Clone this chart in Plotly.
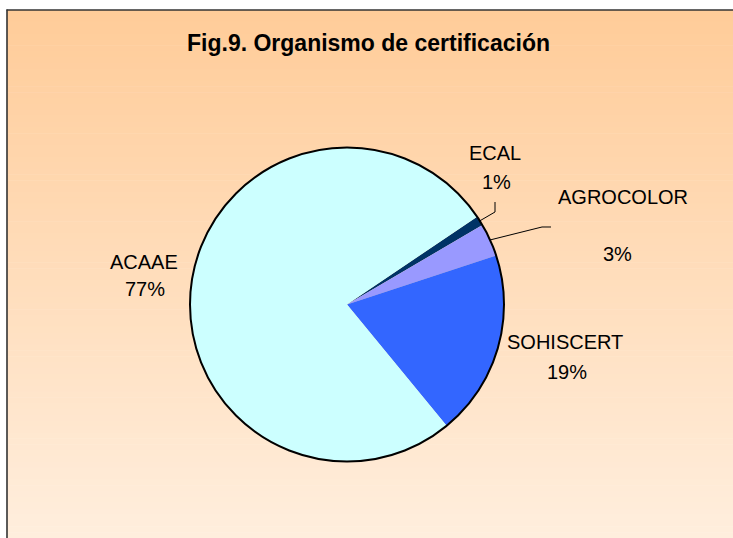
import math
import plotly.graph_objects as go

W, H = 733, 538

# ---- data ----
labels = ["ECAL", "AGROCOLOR", "SOHISCERT", "ACAAE"]
values = [1.0, 3.4, 19.1, 76.5]
pct_text = ["1%", "3%", "19%", "77%"]
colors = ["#003366", "#9999FF", "#3366FF", "#CCFFFF"]
title_text = "Fig.9. Organismo de certificación"

# ---- layout geometry (pixels) ----
CX, CY, R = 347, 304.5, 157
ROT = 56
FONT = "Liberation Sans, Arial, sans-serif"
LABEL_SIZE = 20

# label positions: (name x, name y, pct x, pct y)
label_pos = {
    "ECAL": (495, 153, 496, 182),
    "AGROCOLOR": (623, 197, 617, 254),
    "SOHISCERT": (565, 342, 567, 372),
    "ACAAE": (144, 262, 145, 289),
}
# leader line elbows: (elbow, end)
leaders = {
    "ECAL": ((495, 212), (495, 202)),
    "AGROCOLOR": ((542, 227), (551, 227)),
}


def px(x):
    return x / W


def py(y):
    return 1 - y / H


domain = dict(x=[px(CX - R), px(CX + R)], y=[py(CY + R), py(CY - R)])

fig = go.Figure()
fig.add_trace(go.Pie(
    labels=labels, values=values, sort=False, direction="clockwise",
    rotation=ROT, marker=dict(colors=colors, line=dict(width=0)),
    textinfo="none", hoverinfo="label+percent", domain=domain,
    showlegend=False,
))
# outer outline only (no radial edges)
fig.add_trace(go.Pie(
    labels=["outline"], values=[1], sort=False,
    marker=dict(colors=["rgba(0,0,0,0)"], line=dict(color="black", width=2)),
    textinfo="none", hoverinfo="skip", domain=domain, showlegend=False,
))

shapes = []
# gradient background inside frame
top_c = (255, 204, 153)
bot_c = (255, 238, 221)
y0, y1 = 10, H
n = 90
for i in range(n):
    t = i / (n - 1)
    c = tuple(round(top_c[k] + (bot_c[k] - top_c[k]) * t) for k in range(3))
    ya = y0 + (y1 - y0) * i / n
    yb = y0 + (y1 - y0) * (i + 1) / n + 0.6
    shapes.append(dict(type="rect", xref="paper", yref="paper",
                       x0=px(7), x1=1, y0=py(min(yb, H)), y1=py(ya),
                       fillcolor="rgb(%d,%d,%d)" % c, line=dict(width=0),
                       layer="below"))
# frame (top and left edges visible)
shapes.append(dict(type="line", xref="paper", yref="paper",
                   x0=px(6.5), x1=1, y0=py(10), y1=py(10),
                   line=dict(color="#333333", width=1.6)))
shapes.append(dict(type="line", xref="paper", yref="paper",
                   x0=px(7), x1=px(7), y0=py(9.5), y1=0,
                   line=dict(color="#333333", width=1.6)))

# leader lines from slice mid-angles
total = sum(values)
cum = 0.0
mids = {}
for lab, v in zip(labels, values):
    th = math.radians(ROT + 360 * (cum + v / 2) / total)
    mids[lab] = (CX + R * math.sin(th), CY - R * math.cos(th))
    cum += v
for lab, (elbow, end) in leaders.items():
    sx, sy = mids[lab]
    path = "M %f %f L %f %f L %f %f" % (px(sx), py(sy), px(elbow[0]), py(elbow[1]),
                                        px(end[0]), py(end[1]))
    shapes.append(dict(type="path", xref="paper", yref="paper", path=path,
                       line=dict(color="black", width=1)))

annotations = [dict(text="<b>%s</b>" % title_text, x=px(368), y=py(42.5),
                    xref="paper", yref="paper", showarrow=False,
                    xanchor="center", yanchor="middle",
                    font=dict(family=FONT, size=23, color="black"))]
for lab, pct in zip(labels, pct_text):
    nx, ny, qx, qy = label_pos[lab]
    annotations.append(dict(text=lab, x=px(nx), y=py(ny), xref="paper", yref="paper",
                            showarrow=False, xanchor="center", yanchor="middle",
                            font=dict(family=FONT, size=LABEL_SIZE, color="black")))
    annotations.append(dict(text=pct, x=px(qx), y=py(qy), xref="paper", yref="paper",
                            showarrow=False, xanchor="center", yanchor="middle",
                            font=dict(family=FONT, size=LABEL_SIZE, color="black")))

fig.update_layout(
    width=W, height=H, autosize=False,
    margin=dict(l=0, r=0, t=0, b=0),
    paper_bgcolor="white", plot_bgcolor="white",
    shapes=shapes, annotations=annotations,
    font=dict(family=FONT),
)

fig.write_html(
    "out.html",
    config={"displayModeBar": False},
    post_script="document.body.style.margin='0';document.body.style.overflow='hidden';",
)
